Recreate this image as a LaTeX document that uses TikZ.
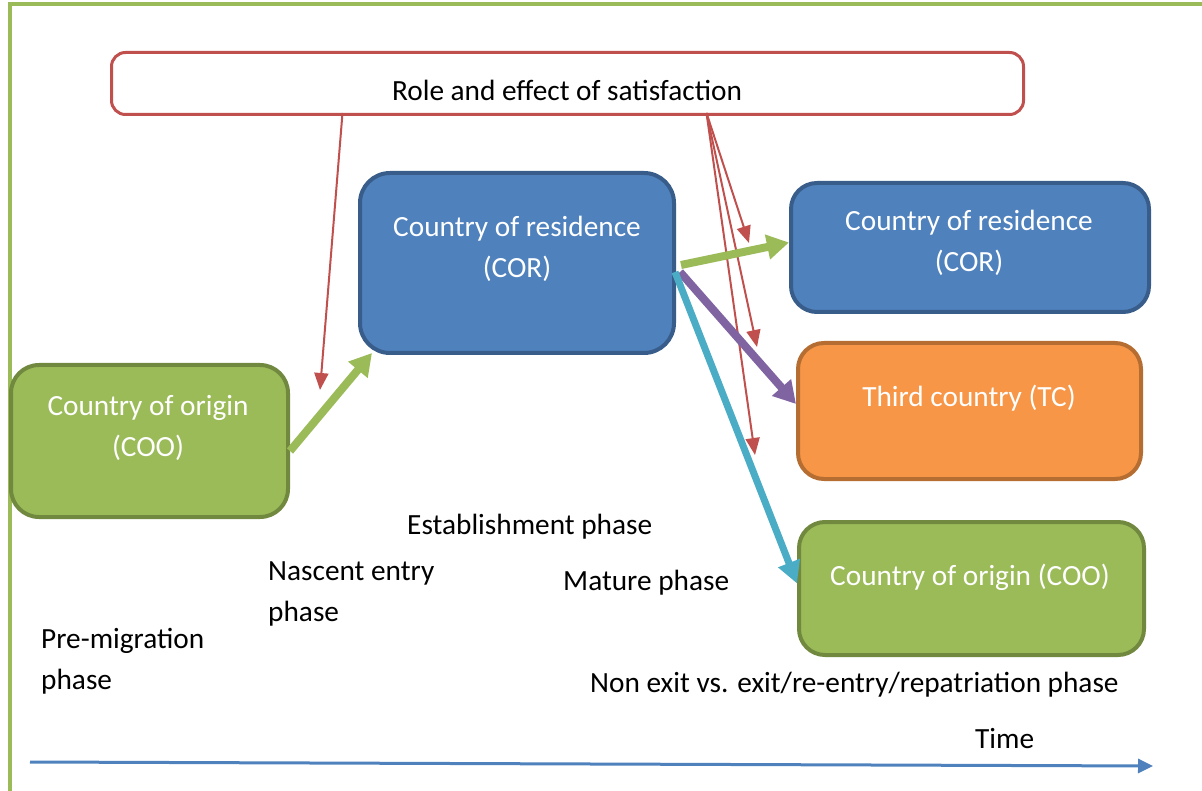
\documentclass[tikz,border=0pt]{standalone}
\usepackage{fontspec}
\setmainfont{Carlito}
\usetikzlibrary{arrows.meta}
\definecolor{corblue}{HTML}{4F81BD}
\definecolor{corline}{HTML}{385D8A}
\definecolor{coogreen}{HTML}{9BBB59}
\definecolor{cooline}{HTML}{71893F}
\definecolor{tcorange}{HTML}{F79646}
\definecolor{tcline}{HTML}{B66D31}
\definecolor{satred}{HTML}{C0504D}
\definecolor{movepurple}{HTML}{8064A2}
\definecolor{movecyan}{HTML}{4BACC6}

\begin{document}
\begin{tikzpicture}[x=1pt,y=-1pt,
  font=\fontsize{29.3}{41.5}\selectfont,
  phasebox/.style={draw,line width=4,inner sep=0},
  boxtext/.style={text=white,align=center,inner sep=0},
  phasetext/.style={anchor=west,align=left,inner sep=0},
  move/.style={line width=8,-{Triangle[length=22,width=24]}},
  effect/.style={satred,line width=2,-{Triangle[length=17,width=14]}}]
  \useasboundingbox (0,0) rectangle (1202,791);
  \draw[coogreen,line width=4] (10,800) |- (1210,4);
  \path
  node[phasebox,satred,fill=white,rounded corners=14,line width=3,minimum width=912,minimum height=62] (role) at (567.5,83.5) {}
  node[phasebox,corline,fill=corblue,rounded corners=30,minimum width=314,minimum height=180] (cor_a) at (517,263) {}
  node[phasebox,cooline,fill=coogreen,rounded corners=28,minimum width=277,minimum height=152] (coo_a) at (149.5,441) {}
  node[phasebox,corline,fill=corblue,rounded corners=26,minimum width=358,minimum height=129] (cor_b) at (970,247.5) {}
  node[phasebox,tcline,fill=tcorange,rounded corners=26,minimum width=343,minimum height=136] (tc) at (969.5,411) {}
  node[phasebox,cooline,fill=coogreen,rounded corners=26,minimum width=345,minimum height=133] (coo_b) at (971.5,588.5) {}
  ;
  \path
  node[inner sep=0] (role_t) at (567,90) {Role and effect of satisfaction}
  node[boxtext] (cor_a_t) at (517,249) {Country of residence\\(COR)}
  node[boxtext] (coo_a_t) at (148,428) {Country of origin\\(COO)}
  node[boxtext] (cor_b_t) at (969,243) {Country of residence\\(COR)}
  node[boxtext] (tc_t) at (969,398) {Third country (TC)}
  node[boxtext] (coo_b_t) at (970,577) {Country of origin (COO)}
  node[phasetext] (establish) at (407,527) {Establishment phase}
  node[phasetext] (nascent) at (268,594) {Nascent entry\\phase}
  node[phasetext] (mature) at (563,583) {Mature phase}
  node[phasetext] (premig) at (41,661) {Pre-migration\\phase}
  node[phasetext] (nonexit) at (590,685) {Non exit vs. exit/re-entry/repatriation phase}
  node[phasetext] (time) at (975,739) {Time}
  ;
  \coordinate (sat_a) at (320,390);
  \coordinate (sat_b) at (749,243);
  \coordinate (sat_c) at (757,347);
  \coordinate (sat_d) at (755,455);
  \coordinate (time_start) at (30,762);
  \coordinate (time_end) at (1153,766);
  \path
  ([xshift=-225,yshift=3]role.south) edge[effect] (sat_a)
  ([xshift=139,yshift=3]role.south) edge[effect] (sat_b)
  ([xshift=139,yshift=3]role.south) edge[effect] (sat_c)
  ([xshift=139,yshift=3]role.south) edge[effect] (sat_d)
  ;
  \path
  ([yshift=-10]coo_a.east) edge[move,coogreen] ([xshift=14,yshift=2]cor_a.south west)
  ([xshift=5,yshift=-2]cor_a.east) edge[move,coogreen] ([yshift=5]cor_b.west)
  ([xshift=4,yshift=-9]cor_a.east) edge[move,movepurple] ([yshift=7]tc.west)
  ([xshift=-1,yshift=-9]cor_a.east) edge[movecyan,line width=7,-{Triangle[length=22,width=22]}] ([yshift=5]coo_b.west)
  ;
  \draw[corblue,line width=3,-{Triangle[length=15,width=14]}] (time_start) -- (time_end);
\end{tikzpicture}
\end{document}
